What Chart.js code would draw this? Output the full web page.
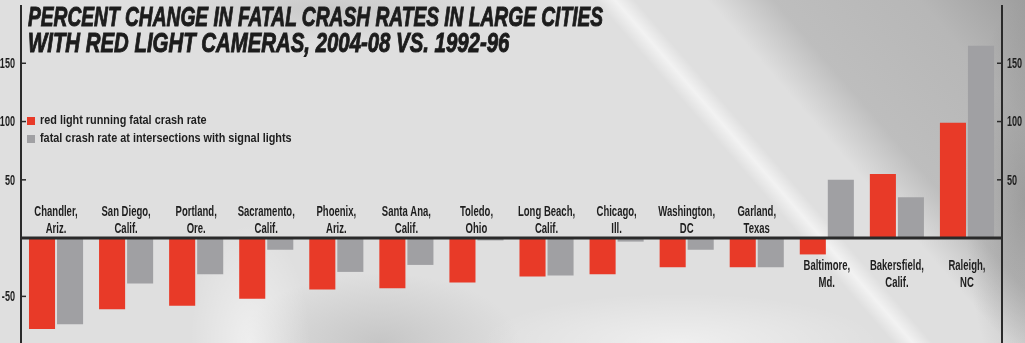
<!DOCTYPE html>
<html>
<head>
<meta charset="utf-8">
<script src="https://cdn.jsdelivr.net/npm/chart.js@4"></script>
<style>
  html, body { margin: 0; padding: 0; background: #dfdfdf; }
  body { width: 1025px; height: 343px; overflow: hidden; position: relative; }
  #bg {
    position: absolute; left: 0; top: 0; width: 1025px; height: 343px;
    background:
      linear-gradient(49deg, rgba(255,255,255,0) 67.5%, rgba(255,255,255,0.6) 69%, rgba(255,255,255,0) 70.5%),
      linear-gradient(49deg, rgba(90,90,90,0) 76%, rgba(90,90,90,0.25) 81%, rgba(90,90,90,0.3) 92%, rgba(60,60,60,0.4) 100%),
      radial-gradient(ellipse 60px 200px at 1025px 200px, rgba(90,90,90,0.3), rgba(90,90,90,0) 100%),
      radial-gradient(ellipse 180px 35px at 330px 8px, rgba(150,150,150,0.3), rgba(150,150,150,0) 100%),
      radial-gradient(ellipse 60px 120px at 250px 343px, rgba(255,255,255,0.5), rgba(255,255,255,0) 100%),
      radial-gradient(ellipse 140px 70px at 380px 343px, rgba(150,150,150,0.35), rgba(150,150,150,0) 100%),
      radial-gradient(ellipse 200px 50px at 680px 343px, rgba(255,255,255,0.5), rgba(255,255,255,0) 100%),
      #dfdfdf;
  }
  #wrap { position: absolute; left: 0; top: 0; width: 1025px; height: 343px; }
  .title {
    position: absolute; left: 28px;
    font-family: "Liberation Sans", Arial, sans-serif;
    font-weight: bold; font-style: italic; font-size: 28px; line-height: 26px;
    color: #1c1c1c; -webkit-text-stroke: 1px #1c1c1c;
    white-space: nowrap; transform-origin: 0 0;
  }
  #t1 { top: 4px; transform: scaleX(0.685); }
  #t2 { top: 30px; transform: scaleX(0.728); }
</style>
</head>
<body>
<div id="bg"></div>
<div id="wrap"><canvas id="chart"></canvas></div>
<div class="title" id="t1">PERCENT CHANGE IN FATAL CRASH RATES IN LARGE CITIES</div>
<div class="title" id="t2">WITH RED LIGHT CAMERAS, 2004-08 VS. 1992-96</div>
<script>
// ── Data ────────────────────────────────────────────────
const cities = [
  ['Chandler,', 'Ariz.'], ['San Diego,', 'Calif.'], ['Portland,', 'Ore.'],
  ['Sacramento,', 'Calif.'], ['Phoenix,', 'Ariz.'], ['Santa Ana,', 'Calif.'],
  ['Toledo,', 'Ohio'], ['Long Beach,', 'Calif.'], ['Chicago,', 'Ill.'],
  ['Washington,', 'DC'], ['Garland,', 'Texas'], ['Baltimore,', 'Md.'],
  ['Bakersfield,', 'Calif.'], ['Raleigh,', 'NC']
];
const redLightRate = [-78, -61, -58, -52, -44, -43, -38, -33, -31, -25, -25, -14, 55, 99];
const signalRate   = [-74, -39, -31, -10, -29, -23, -2, -32, -3, -10, -25, 50, 35, 165];
const leftTicks  = [150, 100, 50, -50];
const rightTicks = [150, 100, 50];

const RED  = '#e83a28';
const GREY = '#a0a0a3';
const INK  = '#1e1e1e';
const FONT = '"Liberation Sans", Arial, sans-serif';

// draw horizontally squeezed text (condensed look)
function squeezed(ctx, text, x, y, sx, align) {
  ctx.save();
  ctx.scale(sx, 1);
  ctx.textAlign = align || 'center';
  ctx.fillText(text, x / sx, y);
  ctx.restore();
}

const decor = {
  id: 'decor',
  afterDatasetsDraw(chart) {
    const { ctx, chartArea: a, scales: { x, y } } = chart;
    const zero = y.getPixelForValue(0);
    ctx.save();
    ctx.strokeStyle = '#2a2a2a';

    // axis lines
    ctx.lineWidth = 2;
    ctx.beginPath();
    ctx.moveTo(a.left, a.top); ctx.lineTo(a.left, a.bottom);
    ctx.moveTo(a.right, a.top); ctx.lineTo(a.right, a.bottom);
    ctx.stroke();

    // zero line
    ctx.lineWidth = 3;
    ctx.beginPath();
    ctx.moveTo(a.left, zero); ctx.lineTo(a.right, zero);
    ctx.stroke();

    // ticks + labels
    ctx.lineWidth = 1.5;
    ctx.fillStyle = INK;
    ctx.font = 'bold 14px ' + FONT;
    ctx.textBaseline = 'middle';
    leftTicks.forEach(v => {
      const py = y.getPixelForValue(v);
      ctx.beginPath(); ctx.moveTo(a.left, py); ctx.lineTo(a.left + 5, py); ctx.stroke();
      squeezed(ctx, String(v), a.left - 6, py + 1, 0.65, 'right');
    });
    rightTicks.forEach(v => {
      const py = y.getPixelForValue(v);
      ctx.beginPath(); ctx.moveTo(a.right - 5, py); ctx.lineTo(a.right, py); ctx.stroke();
      squeezed(ctx, String(v), a.right + 5, py + 1, 0.65, 'left');
    });

    // city labels: above zero where bars fall, below where they rise
    ctx.font = 'bold 15px ' + FONT;
    cities.forEach((lines, i) => {
      const cx = x.getPixelForValue(i);
      const up = signalRate[i] < 0;
      const y0 = up ? zero - 26 : zero + 28;
      lines.forEach((t, k) => squeezed(ctx, t, cx, y0 + k * 16.5, 0.635, 'center'));
    });

    // legend
    ctx.font = 'bold 12px ' + FONT;
    chart.data.datasets.forEach((ds, k) => {
      const ly = 121 + k * 18;
      ctx.fillStyle = ds.backgroundColor;
      ctx.fillRect(27, ly - 4, 8, 8);
      ctx.fillStyle = INK;
      squeezed(ctx, ds.label, 40, ly, 0.905, 'left');
    });
    ctx.restore();
  }
};

new Chart(document.getElementById('chart'), {
  type: 'bar',
  data: {
    labels: cities,
    datasets: [
      { label: 'red light running fatal crash rate', data: redLightRate, backgroundColor: RED },
      { label: 'fatal crash rate at intersections with signal lights', data: signalRate, backgroundColor: GREY }
    ]
  },
  options: {
    responsive: true,
    maintainAspectRatio: false,
    animation: false,
    layout: { padding: { left: 21, right: 23, top: 5, bottom: 0 } },
    datasets: { bar: { categoryPercentage: 0.8, barPercentage: 0.93 } },
    plugins: { legend: { display: false }, tooltip: { enabled: false } },
    scales: {
      x: { display: false },
      y: { display: false, min: -90, max: 200 }
    }
  },
  plugins: [decor]
});
</script>
</body>
</html>
